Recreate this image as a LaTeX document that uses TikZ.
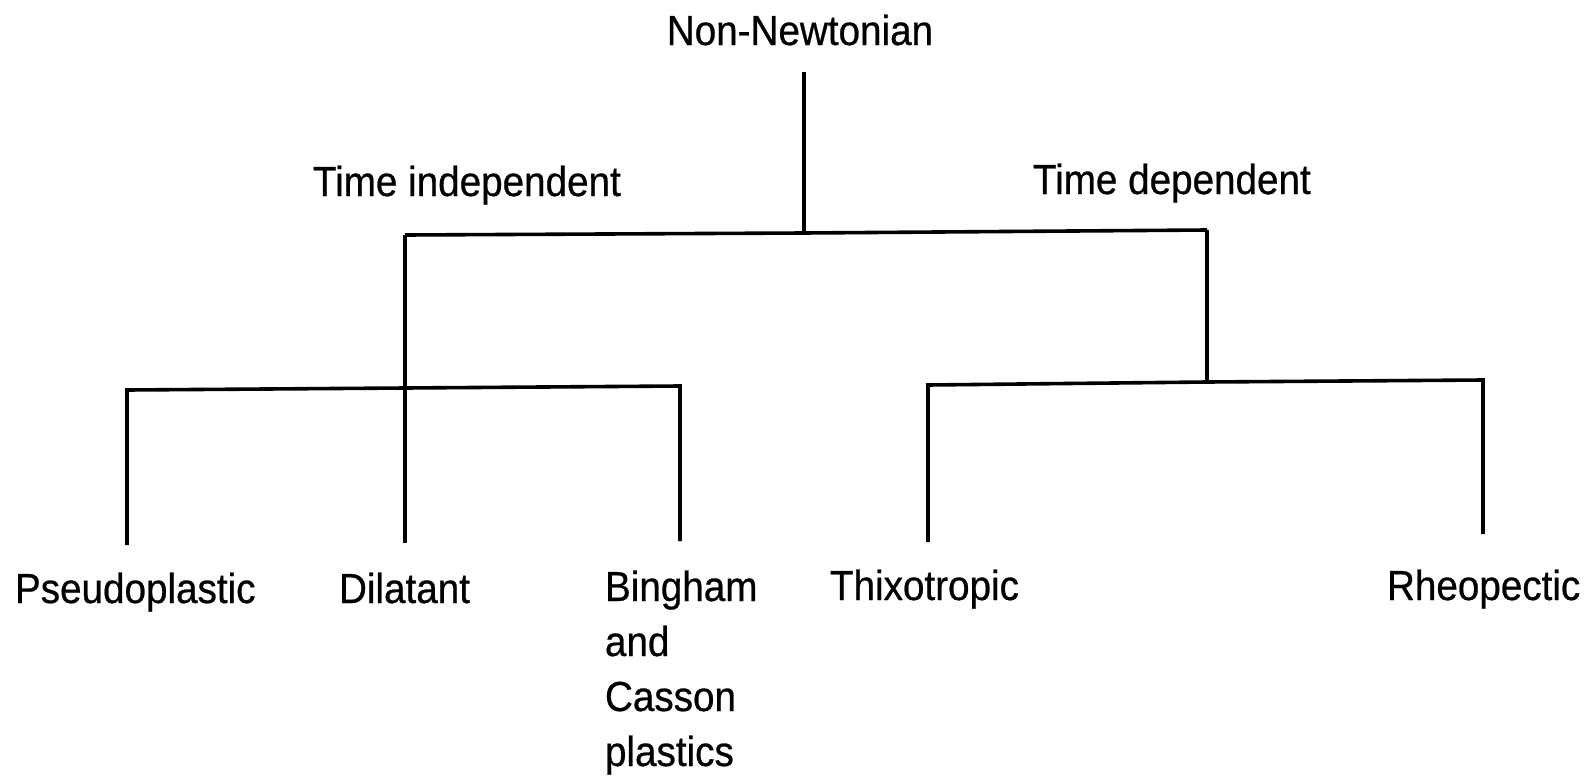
\documentclass[tikz,border=0pt]{standalone}
\usepackage{fontspec}
\setmainfont{Liberation Sans}[FakeStretch=0.92,FakeBold=0.6]
\begin{document}
\begin{tikzpicture}[x=0.5pt,y=-0.5pt,
  label/.style={inner sep=0pt,outer sep=0pt,font=\fontsize{21}{27.5}\selectfont},
  branch/.style={line width=1.8pt,line cap=butt,line join=miter}]
\useasboundingbox (0,0) rectangle (1595,776);

% class names
\node[label,anchor=base] (nn) at (800,45) {Non-Newtonian};
\node[label,anchor=base west] (ti) at (313,196) {Time independent};
\node[label,anchor=base west] (td) at (1033,194) {Time dependent};
\node[label,anchor=base west] (ps) at (15,603) {Pseudoplastic};
\node[label,anchor=base west] (di) at (339,603) {Dilatant};
% the base anchor of a multi-line node sits on its last line
\node[label,anchor=base west,align=left] (bc) at (605,766) {Bingham\\and\\Casson\\plastics};
\node[label,anchor=base west] (th) at (830,600) {Thixotropic};
\node[label,anchor=base west] (rh) at (1387,600) {Rheopectic};

% junctions and line ends of the tree
\coordinate (top) at (804,72);
\coordinate (j0) at (804,233);
\coordinate (jL) at (405,235);
\coordinate (jR) at (1207,230);
\coordinate (jL2) at (405,388);
\coordinate (psT) at (127,390);
\coordinate (bcT) at (680,386);
\coordinate (psB) at (127,545);
\coordinate (diB) at (405,543);
\coordinate (bcB) at (680,541);
\coordinate (jR2) at (1207,382);
\coordinate (thT) at (928,385);
\coordinate (rhT) at (1483,380);
\coordinate (thB) at (928,542);
\coordinate (rhB) at (1483,534);

% tree
\draw[branch] (top) -- (j0);
\draw[branch] (jL) -- (j0) -- (jR);
\draw[branch] (jL) -- (jL2) -- (diB);
\draw[branch] (psB) -- (psT) -- (jL2) -- (bcT) -- (bcB);
\draw[branch] (jR) -- (jR2);
\draw[branch] (thB) -- (thT) -- (jR2) -- (rhT) -- (rhB);
\end{tikzpicture}
\end{document}
